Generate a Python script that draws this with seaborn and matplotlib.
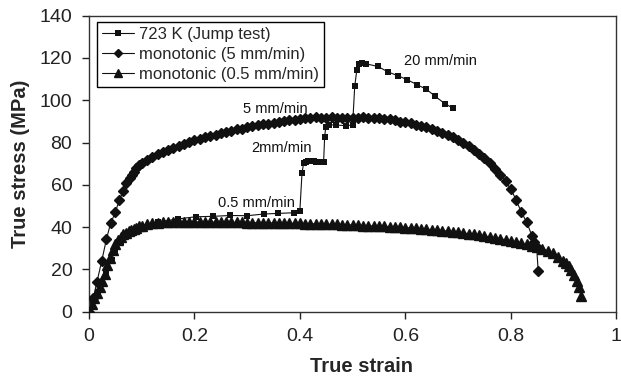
import matplotlib
matplotlib.use("Agg")
import matplotlib.pyplot as plt
import seaborn as sns
import pandas as pd

# ---------------- data ----------------
jump_strain = [0, 0.008, 0.018, 0.025, 0.033, 0.043, 0.049, 0.06, 0.08, 0.10, 0.13,
               0.169, 0.203, 0.235, 0.268, 0.30, 0.332, 0.359, 0.389, 0.40,
               0.404, 0.407, 0.411, 0.416, 0.421, 0.426, 0.431, 0.436, 0.441, 0.445,
               0.447, 0.449, 0.456, 0.468, 0.487, 0.50,
               0.504, 0.508, 0.512, 0.518, 0.526, 0.548, 0.567, 0.586, 0.603, 0.622,
               0.640, 0.657, 0.675, 0.691]
jump_stress = [0.5, 5.5, 9.5, 14, 19, 24.5, 28.4, 33, 37, 40, 42.3,
               43.9, 44.9, 45.1, 45.5, 45.4, 46.2, 46.5, 46.8, 47.8,
               65.5, 70.2, 70.8, 71.1, 71.2, 71.1, 71.0, 70.8, 70.6, 70.8,
               82.8, 87.2, 88.4, 88.3, 88.0, 88.3,
               106.6, 114.3, 117.3, 117.8, 117.2, 116.0, 113.4, 111.6, 109.8, 107.4,
               105.2, 101.8, 98.4, 96.2]

mono5_strain = [0, 0.008, 0.015, 0.024, 0.033, 0.041, 0.05, 0.057, 0.065, 0.071,
                0.077, 0.081, 0.086, 0.09, 0.095, 0.10, 0.11, 0.12, 0.13, 0.14,
                0.15, 0.16, 0.17, 0.18, 0.19, 0.20, 0.21, 0.22, 0.23, 0.24,
                0.25, 0.26, 0.27, 0.28, 0.29, 0.30, 0.31, 0.32, 0.33, 0.34,
                0.35, 0.36, 0.37, 0.38, 0.39, 0.40, 0.41, 0.42, 0.43, 0.44,
                0.45, 0.46, 0.47, 0.48, 0.49, 0.50, 0.51, 0.52, 0.53, 0.54,
                0.55, 0.56, 0.57, 0.58, 0.59, 0.60, 0.61, 0.62, 0.63, 0.64,
                0.65, 0.66, 0.67, 0.68, 0.69, 0.70, 0.71, 0.72, 0.73, 0.74,
                0.75, 0.76, 0.77, 0.78, 0.79, 0.80, 0.81, 0.82, 0.83, 0.84,
                0.845, 0.849, 0.852]
mono5_stress = [0, 6.5, 14, 23.8, 34.2, 41.8, 47, 52.6, 57, 61,
                63, 64.7, 66.3, 67.8, 69.2, 70.3, 71.6, 73.2, 74.6, 75.5,
                76.6, 77.6, 78.6, 79.5, 80.3, 81.0, 81.8, 82.5, 83.0, 83.5,
                84.3, 85.0, 85.6, 86.2, 86.6, 87.2, 87.6, 88.1, 88.6, 89.0,
                89.4, 89.8, 90.3, 90.6, 90.8, 91.1, 91.4, 91.8, 91.9, 91.6,
                91.7, 91.9, 91.8, 91.5, 91.5, 91.6, 91.8, 91.9, 91.8, 91.6,
                91.5, 91.3, 91.0, 90.5, 89.9, 89.5, 89.1, 88.5, 87.9, 87.2,
                86.6, 85.6, 84.6, 83.6, 82.5, 81.2, 79.8, 78.2, 76.5, 74.8,
                72.6, 70.2, 67.6, 64.8, 61.6, 58.0, 53.0, 47.0, 42.5, 36.0,
                33.0, 30.7, 19.3]

mono05_strain = [0, 0.005, 0.01, 0.015, 0.02, 0.025, 0.03, 0.035, 0.04, 0.045,
                 0.05, 0.055, 0.06, 0.065, 0.07, 0.075, 0.08, 0.085, 0.09, 0.095,
                 0.10, 0.11, 0.12, 0.13, 0.14, 0.15, 0.16, 0.17, 0.18, 0.19,
                 0.20, 0.21, 0.22, 0.23, 0.24, 0.25, 0.26, 0.27, 0.28, 0.29,
                 0.30, 0.31, 0.32, 0.33, 0.34, 0.35, 0.36, 0.37, 0.38, 0.39,
                 0.40, 0.41, 0.42, 0.43, 0.44, 0.45, 0.46, 0.47, 0.48, 0.49,
                 0.50, 0.51, 0.52, 0.53, 0.54, 0.55, 0.56, 0.57, 0.58, 0.59,
                 0.60, 0.61, 0.62, 0.63, 0.64, 0.65, 0.66, 0.67, 0.68, 0.69,
                 0.70, 0.71, 0.72, 0.73, 0.74, 0.75, 0.76, 0.77, 0.78, 0.79,
                 0.80, 0.81, 0.82, 0.83, 0.84, 0.85, 0.86, 0.87, 0.88, 0.89,
                 0.90, 0.905, 0.91, 0.915, 0.92, 0.925, 0.929, 0.933]
mono05_stress = [0, 3.5, 6.5, 9, 11.5, 14.5, 18, 22, 25.5, 29,
                 31.8, 34, 35.5, 36.6, 37.4, 38.1, 38.7, 39.3, 39.8, 40.3,
                 40.7, 41.3, 41.8, 42.1, 42.3, 42.4, 42.5, 42.5, 42.4, 42.5,
                 42.4, 42.4, 42.3, 42.4, 42.3, 42.3, 42.2, 42.3, 42.2, 42.2,
                 42.1, 42.1, 42.1, 42.0, 42.0, 42.0, 41.9, 41.9, 41.8, 41.8,
                 41.8, 41.7, 41.6, 41.6, 41.5, 41.4, 41.3, 41.3, 41.2, 41.1,
                 41.0, 40.9, 40.7, 40.6, 40.5, 40.4, 40.3, 40.2, 40.1, 40.0,
                 39.8, 39.6, 39.4, 39.2, 39.0, 38.8, 38.6, 38.4, 38.1, 37.8,
                 37.5, 37.2, 36.9, 36.6, 36.2, 35.8, 35.4, 35.0, 34.5, 34.0,
                 33.5, 32.9, 32.4, 31.9, 31.3, 30.6, 29.8, 28.8, 27.6, 26.0,
                 24.0, 22.8, 21.5, 19.7, 17.5, 14.5, 11.5, 7.4]

labels = ["723 K (Jump test)", "monotonic (5 mm/min)", "monotonic (0.5 mm/min)"]
x_ticks = [0, 0.2, 0.4, 0.6, 0.8, 1]
x_tick_labels = ["0", "0.2", "0.4", "0.6", "0.8", "1"]
y_ticks = [0, 20, 40, 60, 80, 100, 120, 140]

annotations = [("0.5 mm/min", 0.317, 51.6), ("2mm/min", 0.366, 77.4),
               ("5 mm/min", 0.353, 95.9), ("20 mm/min", 0.666, 118.6)]

# ---------------- style ----------------
sns.set_style("ticks")
plt.rcParams["font.family"] = ["Liberation Sans", "DejaVu Sans"]

fig = plt.figure(figsize=(6.21, 3.81), dpi=100)
ax = fig.add_axes([0.1433, 0.1819, 0.8490, 0.7769])

col = "#111111"
df_j = pd.DataFrame({"strain": jump_strain, "stress": jump_stress})
df_5 = pd.DataFrame({"strain": mono5_strain, "stress": mono5_stress})
df_05 = pd.DataFrame({"strain": mono05_strain, "stress": mono05_stress})

sns.lineplot(data=df_j, x="strain", y="stress", ax=ax, sort=False, estimator=None,
             color=col, lw=0.8, marker="s", markersize=4.8, markeredgewidth=0,
             label=labels[0], zorder=4)
sns.lineplot(data=df_5, x="strain", y="stress", ax=ax, sort=False, estimator=None,
             color=col, lw=0.8, marker="D", markersize=5.2, markeredgewidth=1.0,
             markeredgecolor=col, label=labels[1], zorder=3)
sns.lineplot(data=df_05, x="strain", y="stress", ax=ax, sort=False, estimator=None,
             color=col, lw=0.8, marker="^", markersize=7.0, markeredgewidth=1.0,
             markeredgecolor=col, label=labels[2], zorder=2)

ax.set_xlim(0, 1)
ax.set_ylim(0, 140)
ax.set_xticks(x_ticks)
ax.set_xticklabels(x_tick_labels)
ax.set_yticks(y_ticks)
ax.tick_params(direction="out", length=5, width=1, pad=7, labelsize=14, colors="#222222")
for s in ax.spines.values():
    s.set_visible(True)
    s.set_linewidth(1)
    s.set_color("#333333")

ax.set_xlabel("True strain", fontsize=14.5, fontweight="bold")
ax.set_ylabel("True stress (MPa)", fontsize=14.5, fontweight="bold")
ax.xaxis.set_label_coords(0.5165, -0.152)
ax.yaxis.set_label_coords(-0.112, 0.5)

for txt, xx, yy in annotations:
    ax.text(xx, yy, txt, fontsize=10.5, ha="center", va="center", color="#111111")

leg = ax.legend(loc="upper left", bbox_to_anchor=(0.015, 0.979), fontsize=12,
                frameon=True, fancybox=False, edgecolor="black", framealpha=1,
                handlelength=1.9, handletextpad=0.3, borderpad=0.3,
                labelspacing=0.3, borderaxespad=0)
leg.get_frame().set_linewidth(1)
for h, ms in zip(leg.legend_handles, [4.8, 3.6, 5.2]):
    h.set_markersize(ms)

fig.savefig("out.png", dpi=100)
